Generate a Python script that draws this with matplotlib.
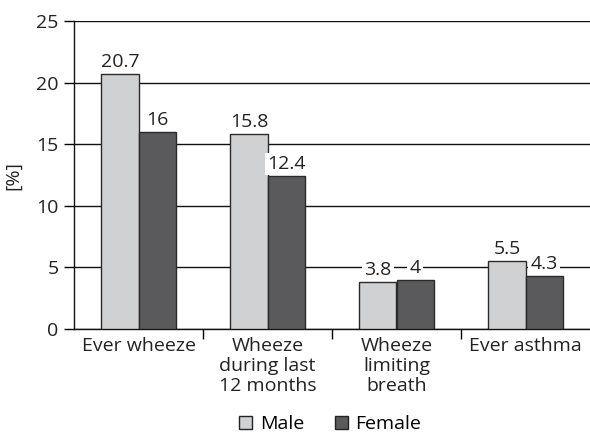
import matplotlib
matplotlib.use("Agg")
import matplotlib.pyplot as plt
import numpy as np
from matplotlib.patches import Patch

categories = ["Ever wheeze", "Wheeze\nduring last\n12 months", "Wheeze\nlimiting\nbreath", "Ever asthma"]
male = [20.7, 15.8, 3.8, 5.5]
female = [16, 12.4, 4, 4.3]
male_labels = ["20.7", "15.8", "3.8", "5.5"]
female_labels = ["16", "12.4", "4", "4.3"]
yticks = [0, 5, 10, 15, 20, 25]

plt.rcParams['font.family'] = ['Open Sans', 'DejaVu Sans']
fs = 14
fig = plt.figure(figsize=(5.9, 4.34), dpi=100)
ax = fig.add_axes([74/590, 1-329/434, 516/590, 308/434])

x = np.arange(len(categories))
w = 0.287
c_m = "#d0d1d3"
c_f = "#5a5a5c"
ax.bar(x - w/2, male, w, color=c_m, edgecolor="#2a2a2a", linewidth=1.0, zorder=3)
ax.bar(x + w/2, female, w, color=c_f, edgecolor="#2a2a2a", linewidth=1.0, zorder=3)

for xi, v, lab in zip(x - w/2, male, male_labels):
    ax.text(xi, v + 0.25, lab, ha="center", va="bottom", fontsize=fs, color="#222222",
            bbox=dict(facecolor="white", edgecolor="none", pad=1.5), zorder=4)
for xi, v, lab in zip(x + w/2, female, female_labels):
    ax.text(xi, v + 0.25, lab, ha="center", va="bottom", fontsize=fs, color="#222222",
            bbox=dict(facecolor="white", edgecolor="none", pad=1.5), zorder=4)

ax.set_xlim(-0.5, len(categories) - 0.5)
ax.set_ylim(0, 25)
ax.set_yticks(yticks)
ax.set_yticklabels([str(t) for t in yticks], fontsize=fs, color="#222222")
ax.yaxis.grid(True, color="#111111", linewidth=1.0, zorder=0)
ax.set_axisbelow(True)
ax.set_ylabel("[%]", fontsize=fs, color="#222222", labelpad=10)

ax.set_xticks(x)
ax.set_xticklabels(categories, fontsize=fs, color="#222222", linespacing=1.12)
ax.tick_params(axis="x", length=0, pad=6)
ax.set_xticks(np.arange(len(categories) - 1) + 0.5, minor=True)
ax.tick_params(axis="x", which="minor", length=7, width=1.0, direction="out")
ax.tick_params(axis="y", length=7, width=1.0, direction="out", pad=4)

for s in ["top", "right"]:
    ax.spines[s].set_visible(False)
for s in ["left", "bottom"]:
    ax.spines[s].set_color("#111111")
    ax.spines[s].set_linewidth(1.0)

handles = [Patch(facecolor=c_m, edgecolor="#222222", label="Male"),
           Patch(facecolor=c_f, edgecolor="#222222", label="Female")]
fig.legend(handles=handles, loc="center", bbox_to_anchor=(0.56, 1 - 424/434), ncol=2,
           frameon=False, fontsize=fs, handlelength=0.65, handleheight=0.65,
           handletextpad=0.4, columnspacing=1.6)

fig.savefig("out.png", dpi=100)
